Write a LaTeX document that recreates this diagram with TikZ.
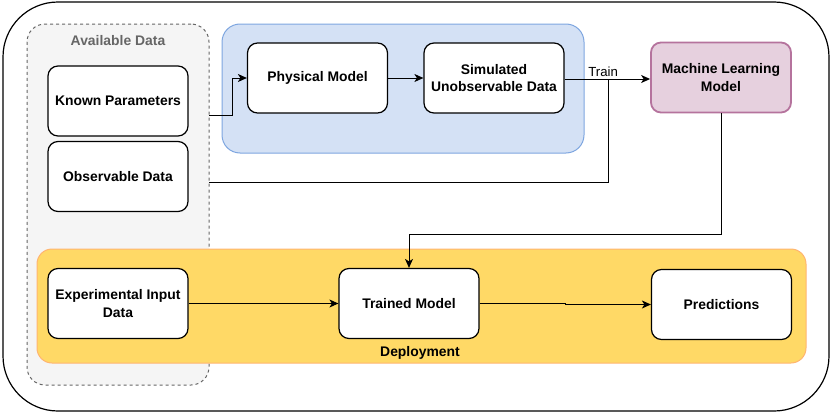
\documentclass[tikz,border=0pt]{standalone}
\usepackage{fontspec}
\setmainfont{Liberation Sans}
\usepackage{tikz}
\usetikzlibrary{arrows.meta}
\definecolor{availfill}{HTML}{F5F5F5}
\definecolor{availline}{HTML}{666666}
\definecolor{physfill}{HTML}{D4E1F5}
\definecolor{physline}{HTML}{7EA6E0}
\definecolor{deployfill}{HTML}{FFD966}
\definecolor{deployline}{HTML}{FFB570}
\definecolor{mlfill}{HTML}{E6D0DE}
\definecolor{mlline}{HTML}{B5739D}

\begin{document}
\begin{tikzpicture}[x=1pt, y=-1pt,
  every node/.style={font=\fontsize{13.9}{17.5}\selectfont\bfseries, align=center},
  box/.style={draw, line width=1.2pt, fill=white, rounded corners=10pt, minimum width=140pt, minimum height=70pt, inner sep=2pt},
  group/.style={rounded corners=18pt, line width=1pt},
  arr/.style={-{Stealth[length=9pt, width=8pt, inset=2.5pt]}},
  link/.style={line width=1pt}]
  \useasboundingbox (0,0) rectangle (831,415);
  \draw[line width=1.2pt, rounded corners=55pt] (3,2) rectangle (829,411);
  % groups
  \node[group, draw=availline, fill=availfill, dashed, minimum width=182pt, minimum height=361pt] (avail) at (118,204.5) {};
  \node[text=availline] (availtitle) at (118,41) {Available Data};
  \node[group, draw=physline, fill=physfill, minimum width=362pt, minimum height=129pt] (physgrp) at (403,88.5) {};
  \node[group, draw=deployline, fill=deployfill, rounded corners=15pt, minimum width=769pt, minimum height=114pt] (deploy) at (421.5,306) {};
  \node (deploylbl) at (420,353) {Deployment};
  % boxes
  \node[box] (known) at (118,101) {Known Parameters};
  \node[box] (obs) at (118,176.5) {Observable Data};
  \node[box] (phys) at (317.5,78) {Physical Model};
  \node[box] (sim) at (494,78) {Simulated\\Unobservable Data};
  \node[box, draw=mlline, fill=mlfill, line width=1.8pt] (ml) at (721,77.5) {Machine Learning\\Model};
  \node[box] (exp) at (118,303.5) {Experimental Input\\Data};
  \node[box] (trained) at (409,303.5) {Trained Model};
  \node[box] (pred) at (721.5,304.5) {Predictions};
  % connectors
  \coordinate (knownout) at (209,115);
  \coordinate (obsout) at (209,182);
  \coordinate (trainjoin) at (608,79);
  \draw[link, arr] (knownout) -- (232,115) |- (phys.west);
  \draw[link, arr] (phys.east) -- (sim.west);
  \draw[link, arr] (sim.east |- trainjoin) -- (ml.west |- trainjoin) node[pos=0.45, above=-1pt, font=\fontsize{13.2}{15}\selectfont] (trainlbl) {Train};
  \draw[link] (obsout) -| (trainjoin);
  \draw[link, arr] (ml.south) -- ++(0,121) -| (trained.north);
  \draw[link, arr] (exp.east) -- (trained.west);
  \draw[link, arr] (trained.east) -- ++(86,0) |- (pred.west);
\end{tikzpicture}
\end{document}
